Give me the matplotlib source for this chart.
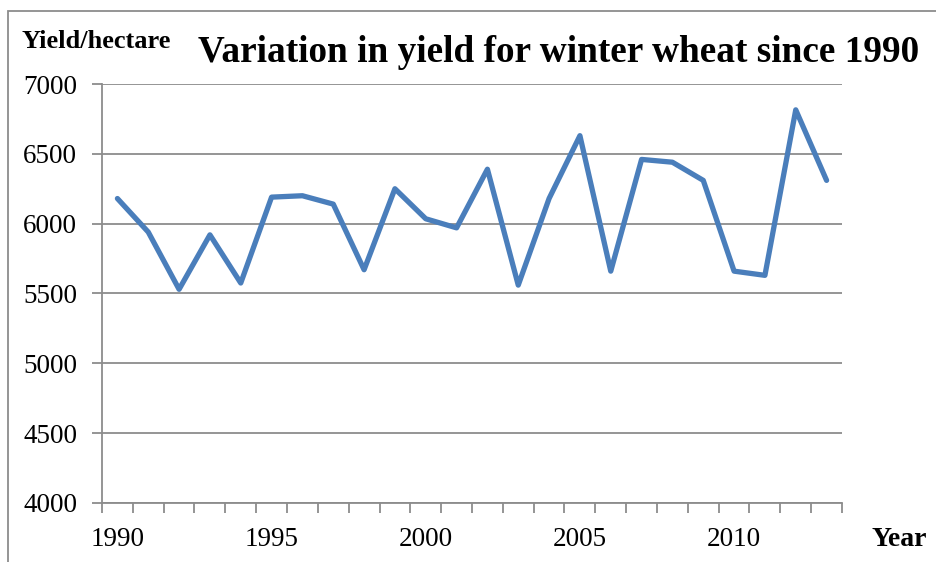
import matplotlib
matplotlib.use("Agg")
import matplotlib.pyplot as plt
from matplotlib.patches import Rectangle

years = list(range(1990, 2014))
yields = [6180, 5940, 5530, 5920, 5575, 6190, 6200, 6140, 5670, 6250,
          6035, 5970, 6390, 5560, 6180, 6630, 5660, 6460, 6440, 6310,
          5660, 5630, 6815, 6310]
y_ticks = [4000, 4500, 5000, 5500, 6000, 6500, 7000]
x_labels = ["1990", "1995", "2000", "2005", "2010"]

plt.rcParams['font.family'] = ['Liberation Serif', 'DejaVu Serif']

fig = plt.figure(figsize=(9.36, 5.62), dpi=100)
ax = fig.add_axes([102 / 936, 1 - 503 / 562, 740 / 936, 419 / 562])

grey = '#8c8c8c'
idx = list(range(len(years)))
ax.plot(idx, yields, color='#4a7ebb', lw=3.8, solid_joinstyle='round',
        solid_capstyle='round', zorder=3)

ax.set_xlim(-0.5, len(years) - 0.5)
ax.set_ylim(4000, 7000)
ax.set_yticks(y_ticks)
ax.set_yticklabels([str(v) for v in y_ticks])
ax.yaxis.grid(True, color=grey, lw=1.3)
ax.set_axisbelow(True)

ax.set_xticks([years.index(int(l)) for l in x_labels])
ax.set_xticklabels(x_labels)
ax.set_xticks([i - 0.5 for i in range(len(years) + 1)], minor=True)
ax.tick_params(axis='x', which='major', length=0, pad=17, labelsize=19.5)
ax.tick_params(axis='x', which='minor', length=7, width=1.3, color=grey,
               direction='out')
ax.tick_params(axis='y', length=7, width=1.3, color=grey, pad=11,
               labelsize=19.5)

for s in ['top', 'right']:
    ax.spines[s].set_visible(False)
for s in ['left', 'bottom']:
    ax.spines[s].set_color(grey)
    ax.spines[s].set_linewidth(1.3)

# outer chart border
fig.patches.append(Rectangle((8 / 936, -0.1), 1.2, 1 - 11 / 562 + 0.1,
                             transform=fig.transFigure, fill=False,
                             edgecolor=grey, lw=1.3))

fig.text(559 / 936, 1 - 53 / 562, 'Variation in yield for winter wheat since 1990',
         ha='center', va='center', fontsize=26.8, fontweight='bold')
fig.text(22 / 936, 1 - 42 / 562, 'Yield/hectare', ha='left', va='center',
         fontsize=19, fontweight='bold')
fig.text(899 / 936, 1 - 540 / 562, 'Year', ha='center', va='center',
         fontsize=20, fontweight='bold')

fig.savefig('out.png', dpi=100)
